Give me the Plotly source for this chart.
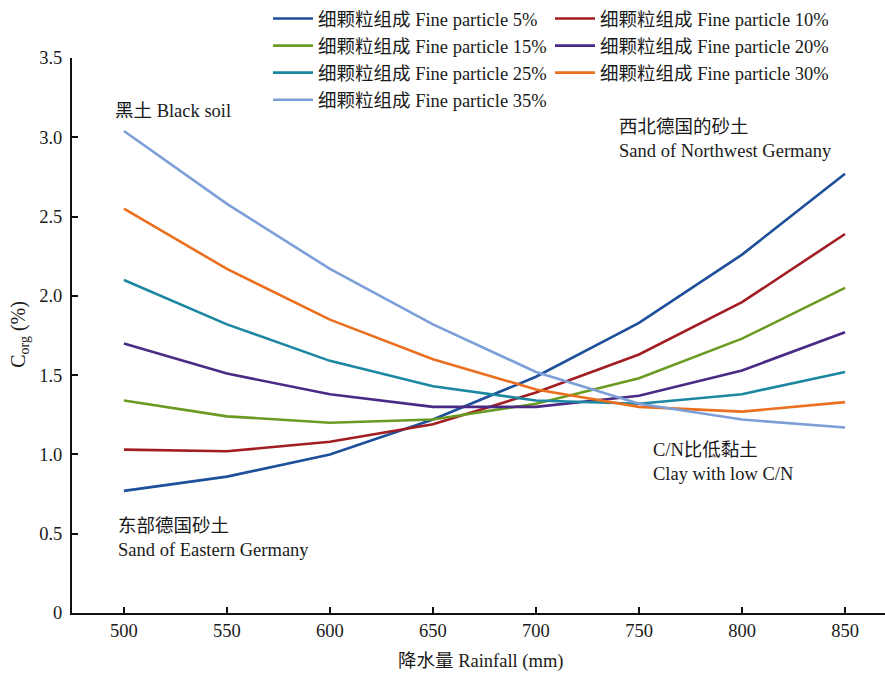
import plotly.graph_objects as go

# Rainfall (mm) and organic carbon content (%) for each fine-particle share
rainfall = [500, 550, 600, 650, 700, 750, 800, 850]

fine_5 = [0.77, 0.86, 1.00, 1.22, 1.49, 1.83, 2.26, 2.77]
fine_10 = [1.03, 1.02, 1.08, 1.19, 1.39, 1.63, 1.96, 2.39]
fine_15 = [1.34, 1.24, 1.20, 1.22, 1.32, 1.48, 1.73, 2.05]
fine_20 = [1.70, 1.51, 1.38, 1.30, 1.30, 1.37, 1.53, 1.77]
fine_25 = [2.10, 1.82, 1.59, 1.43, 1.34, 1.32, 1.38, 1.52]
fine_30 = [2.55, 2.17, 1.85, 1.60, 1.41, 1.30, 1.27, 1.33]
fine_35 = [3.04, 2.58, 2.17, 1.82, 1.52, 1.32, 1.22, 1.17]

series_names = [
    "细颗粒组成 Fine particle 5%",
    "细颗粒组成 Fine particle 10%",
    "细颗粒组成 Fine particle 15%",
    "细颗粒组成 Fine particle 20%",
    "细颗粒组成 Fine particle 25%",
    "细颗粒组成 Fine particle 30%",
    "细颗粒组成 Fine particle 35%",
]
series_values = [fine_5, fine_10, fine_15, fine_20, fine_25, fine_30, fine_35]
series_colors = ["#1d4f9b", "#a21d22", "#6b9a22", "#4a2a84", "#1c87a1", "#ea7020", "#7c9fd8"]
# two legend columns: 5/15/25/35 on the left, 10/20/30 on the right
series_legend = ["legend", "legend2", "legend", "legend2", "legend", "legend2", "legend"]

x_ticks = [500, 550, 600, 650, 700, 750, 800, 850]
y_ticks = [0, 0.5, 1.0, 1.5, 2.0, 2.5, 3.0, 3.5]
y_tick_text = ["0", "0.5", "1.0", "1.5", "2.0", "2.5", "3.0", "3.5"]

x_title = "降水量 Rainfall (mm)"
y_title = "C<sub>org</sub> (%)"

FONT = "Liberation Serif, Times New Roman, Noto Sans CJK SC, serif"
FS = 18.5
INK = "#1a1a1a"

fig = go.Figure()
for name, vals, col, lg in zip(series_names, series_values, series_colors, series_legend):
    fig.add_trace(go.Scatter(
        x=rainfall, y=vals, name=name, mode="lines", legend=lg,
        line=dict(color=col, width=2.6),
    ))

notes = [
    (494.7, 3.165, "黑土 Black soil"),
    (739.3, 2.99, "西北德国的砂土<br>Sand of Northwest Germany"),
    (755.9, 0.95, "C/N比低黏土<br>Clay with low C/N"),
    (496.2, 0.47, "东部德国砂土<br>Sand of Eastern Germany"),
]
for x, y, t in notes:
    fig.add_annotation(x=x, y=y, text=t, showarrow=False, xanchor="left",
                       yanchor="middle", align="left",
                       font=dict(family=FONT, size=FS, color=INK))

# axis titles placed in paper coordinates
fig.add_annotation(x=0.502, y=-0.088, xref="paper", yref="paper", text=x_title,
                   showarrow=False, xanchor="center", yanchor="middle",
                   font=dict(family=FONT, size=FS, color=INK))
fig.add_annotation(x=-0.064, y=0.503, xref="paper", yref="paper", text=y_title,
                   showarrow=False, textangle=-90, xanchor="center", yanchor="middle",
                   font=dict(family=FONT, size=20, color=INK))

legend_common = dict(
    orientation="v", xref="container", yref="container",
    xanchor="left", yanchor="top", y=1.0,
    font=dict(family=FONT, size=FS, color=INK),
    bgcolor="rgba(0,0,0,0)", itemwidth=40,
)

fig.update_layout(
    width=885, height=674,
    margin=dict(l=72, r=0, t=58, b=61, autoexpand=False),
    paper_bgcolor="white", plot_bgcolor="white",
    font=dict(family=FONT, size=FS, color=INK),
    showlegend=True,
    legend=dict(x=268 / 885, **legend_common),
    legend2=dict(x=550 / 885, **legend_common),
    xaxis=dict(
        range=[474.8, 869.4], tickvals=x_ticks, ticks="inside", ticklen=6,
        tickwidth=1.5, tickcolor="#111", showline=True, linecolor="#111",
        linewidth=2, showgrid=False, zeroline=False,
        tickfont=dict(family=FONT, size=FS, color=INK),
    ),
    yaxis=dict(
        range=[0, 3.5], tickvals=y_ticks, ticktext=y_tick_text,
        ticks="inside", ticklen=6, tickwidth=1.5, tickcolor="#111",
        showline=True, linecolor="#111", linewidth=2, showgrid=False,
        zeroline=False, ticklabelstandoff=4,
        tickfont=dict(family=FONT, size=FS, color=INK),
    ),
)

fig.write_html("out.html")
